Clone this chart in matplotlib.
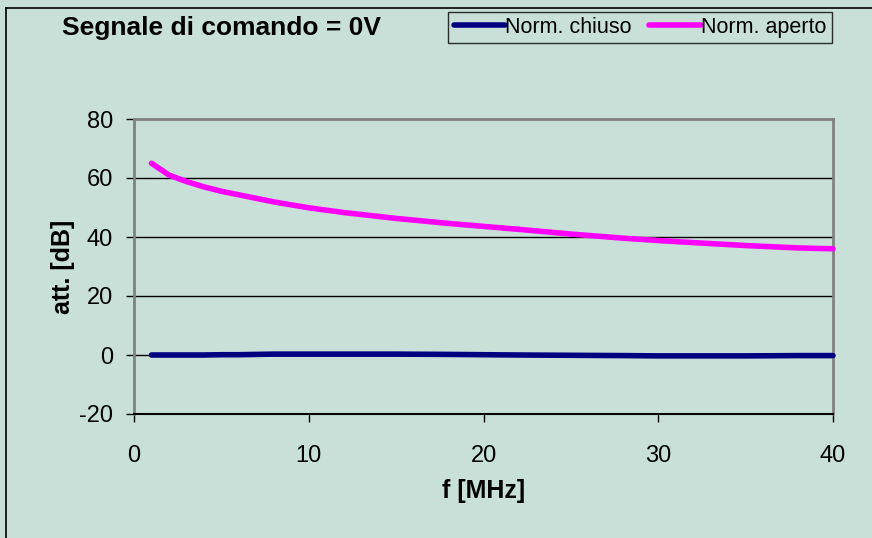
import matplotlib
matplotlib.use("Agg")
import matplotlib.pyplot as plt
from matplotlib.lines import Line2D

freq = [1, 2, 3, 4, 5, 6, 8, 10, 12, 15, 18, 20, 22, 25, 28, 30, 32, 35, 38, 40]
norm_aperto = [65.0, 61.0, 58.8, 57.0, 55.5, 54.3, 51.9, 49.9, 48.3, 46.3, 44.6, 43.6, 42.6, 41.0, 39.6, 38.8, 38.1, 37.1, 36.3, 36.0]
norm_chiuso = [0.0, 0.0, 0.0, 0.0, 0.1, 0.1, 0.3, 0.3, 0.3, 0.3, 0.2, 0.1, 0.0, -0.1, -0.2, -0.3, -0.3, -0.3, -0.2, -0.2]
yticks = [-20, 0, 20, 40, 60, 80]
xticks = [0, 10, 20, 30, 40]

bg = "#C8E0D8"
plt.rcParams['font.family'] = ['Liberation Sans', 'DejaVu Sans']
plt.rcParams['axes.unicode_minus'] = False

fig = plt.figure(figsize=(8.72, 5.38), dpi=100, facecolor=bg)
W, H = 872, 538
# outer chart border: only left and top edges are inside the picture
fig.lines.append(Line2D([5.5 / W, 5.5 / W], [-0.05, 1 - 8 / H], transform=fig.transFigure,
                        color="black", linewidth=1.2))
fig.lines.append(Line2D([5.5 / W, 1.05], [1 - 8 / H, 1 - 8 / H], transform=fig.transFigure,
                        color="black", linewidth=1.2))

ax = fig.add_axes([134 / W, 1 - 414 / H, (833 - 134) / W, (414 - 119) / H])
ax.set_facecolor(bg)
ax.set_xlim(0, 40)
ax.set_ylim(-20, 80)
ax.set_xticks(xticks)
ax.set_yticks(yticks)
for y in yticks[1:-1]:
    ax.axhline(y, color="black", linewidth=1.0, zorder=1)
for side in ["left", "right", "top"]:
    ax.spines[side].set_color("#808080")
    ax.spines[side].set_linewidth(2)
ax.spines["bottom"].set_color("black")
ax.spines["bottom"].set_linewidth(1.5)
ax.tick_params(direction="out", length=6, width=1, colors="black", labelsize=17)
ax.tick_params(axis="y", pad=9)
ax.tick_params(axis="x", pad=16)

ax.plot(freq, norm_chiuso, color="#000080", linewidth=4, label="Norm. chiuso", zorder=3,
        clip_on=False, solid_capstyle="round")
ax.plot(freq, norm_aperto, color="#FF00FF", linewidth=4, label="Norm. aperto", zorder=3,
        clip_on=False, solid_capstyle="round")

ax.set_xlabel("f [MHz]", fontsize=18, fontweight="bold", labelpad=9)
ax.set_ylabel("att. [dB]", fontsize=18, fontweight="bold", labelpad=3)

fig.text(62 / W, 1 - 28 / H, "Segnale di comando = 0V", fontsize=19, fontweight="bold",
         va="center", ha="left")

leg = fig.legend(loc="center", bbox_to_anchor=((445 + 835) / 2 / W, 1 - 27.5 / H), ncol=2, fontsize=15.5,
                 frameon=True, fancybox=False, handlelength=2.4, handletextpad=0.0, columnspacing=0.8,
                 borderpad=0.25, borderaxespad=0)
leg.get_frame().set_edgecolor("black")
leg.get_frame().set_facecolor(bg)
leg.get_frame().set_linewidth(1)

fig.savefig("out.png", dpi=100, facecolor=bg)
